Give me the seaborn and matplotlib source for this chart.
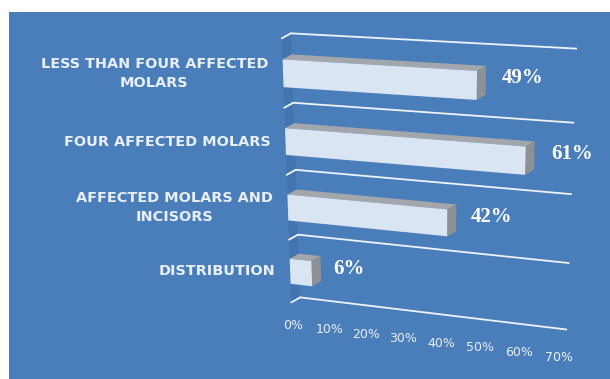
import numpy as np
import matplotlib
matplotlib.use("Agg")
import matplotlib.pyplot as plt
import seaborn as sns
from matplotlib import transforms as mtrans
from matplotlib.patches import Polygon, Rectangle

# ---- data ----
categories = [
    "LESS THAN FOUR AFFECTED\nMOLARS",
    "FOUR AFFECTED MOLARS",
    "AFFECTED MOLARS AND\nINCISORS",
    "DISTRIBUTION",
]
values = [49, 61, 42, 6]
value_labels = ["49%", "61%", "42%", "6%"]
tick_values = [0, 10, 20, 30, 40, 50, 60, 70]
tick_labels = ["0%", "10%", "20%", "30%", "40%", "50%", "60%", "70%"]

# ---- styling ----
W, H = 610, 379
BLUE = "#4a7ebb"
WALL = "#4274b0"
FRONT = "#d9e5f2"
TOP = "#a3a6aa"
SIDE = "#8d9095"
GRID = "#eef3fa"
TEXT = "#e9eff7"
DEPTH = np.array([9.0, -5.0])  # pixel offset from front plane to back plane

# perspective floor: (value, row) -> image pixels, fitted on the frame corners
vmax = tick_values[-1]
rows = [-0.5, 0.5, 1.5, 2.5, 3.5]
left_px = [(282, 38), (284, 108), (287, 175), (288, 240), (292, 302)]
right_px = [(567, 54), (565, 128), (562, 198), (560, 268), (557, 335)]
src = [(0, r) for r in rows] + [(vmax, r) for r in rows]
dst = left_px + right_px

A = []
for (x, y), (u, v) in zip(src, dst):
    A.append([x, y, 1, 0, 0, 0, -u * x, -u * y, -u])
    A.append([0, 0, 0, x, y, 1, -v * x, -v * y, -v])
_, _, Vt = np.linalg.svd(np.array(A, float))
HOM = Vt[-1].reshape(3, 3)


def to_px(pts):
    p = np.asarray(pts, float).reshape(-1, 2)
    h = np.column_stack([p, np.ones(len(p))]) @ HOM.T
    return h[:, :2] / h[:, 2:3]


class Perspective(mtrans.Transform):
    input_dims = 2
    output_dims = 2
    is_separable = False
    has_inverse = False

    def __init__(self, shift=(0.0, 0.0)):
        super().__init__()
        self.shift = np.asarray(shift, float)

    def transform_non_affine(self, values):
        px = to_px(values) + self.shift
        return np.column_stack([px[:, 0] / W, 1.0 - px[:, 1] / H])


fig = plt.figure(figsize=(W / 100, H / 100), dpi=100)
fig.patch.set_facecolor("white")
fig.add_artist(Rectangle((9 / W, 0), 1 - 9 / W, 1 - 12 / H,
                         transform=fig.transFigure, facecolor=BLUE,
                         edgecolor="none", zorder=0))
ax = fig.add_axes([0, 0, 1, 1])
ax.set_axis_off()

front_T = Perspective() + fig.transFigure
back_T = Perspective(DEPTH) + fig.transFigure
pix_T = mtrans.Affine2D().scale(1 / W, -1 / H).translate(0, 1) + fig.transFigure

# bars (front faces)
sns.barplot(x=values, y=categories, orient="h", width=0.4, color=FRONT,
            saturation=1, ax=ax, zorder=4)
bars = list(ax.containers[0])

# left side wall
wall_front = to_px([(0, rows[0]), (0, rows[-1])])
wall = np.vstack([wall_front, wall_front[::-1] + DEPTH])
ax.add_patch(Polygon(wall, closed=True, transform=pix_T, facecolor=WALL,
                     edgecolor="none", zorder=1, clip_on=False))

# gridlines on the back wall plus their floor ticks
for r in rows:
    ax.plot([0, vmax], [r, r], transform=back_T, color=GRID, lw=1.3,
            zorder=2, clip_on=False, solid_capstyle="round")
    f = to_px([(0, r)])[0]
    ax.plot([f[0], f[0] + DEPTH[0]], [f[1], f[1] + DEPTH[1]], transform=pix_T,
            color=GRID, lw=1.3, zorder=2, clip_on=False, solid_capstyle="round")

# extrude each bar: top and right faces
for bar in bars:
    x0, y0 = bar.get_x(), bar.get_y()
    w, h = bar.get_width(), bar.get_height()
    bar.set_transform(front_T)
    bar.set_clip_on(False)
    bar.set_linewidth(0)
    tl, tr, br = to_px([(x0, y0), (x0 + w, y0), (x0 + w, y0 + h)])
    top_face = np.array([tl, tr, tr + DEPTH, tl + DEPTH])
    side_face = np.array([tr, br, br + DEPTH, tr + DEPTH])
    ax.add_patch(Polygon(top_face, closed=True, transform=pix_T,
                         facecolor=TOP, edgecolor="none", zorder=3, clip_on=False))
    ax.add_patch(Polygon(side_face, closed=True, transform=pix_T,
                         facecolor=SIDE, edgecolor="none", zorder=3, clip_on=False))

# value labels
for i, (v, lbl) in enumerate(zip(values, value_labels)):
    ax.text(v + 6, i - 0.12, lbl, transform=front_T, ha="left", va="center",
            family="Liberation Serif", weight="bold", size=15, color="white",
            zorder=5)

# category labels
label_T = Perspective((-15, 0)) + fig.transFigure
for i, cat in enumerate(categories):
    ax.text(0, i, cat, transform=label_T, ha="right", va="center",
            multialignment="center", family="DejaVu Sans", weight="bold",
            size=10.4, color=TEXT, linespacing=1.4, zorder=5)

# value axis tick labels along the floor edge
tick_T = Perspective((2, 23)) + fig.transFigure
for t, lbl in zip(tick_values, tick_labels):
    ax.text(t, rows[-1], lbl, transform=tick_T, ha="center", va="center",
            family="DejaVu Sans", size=9, color=TEXT, zorder=5)

fig.savefig("out.png", dpi=100, facecolor=fig.get_facecolor())
